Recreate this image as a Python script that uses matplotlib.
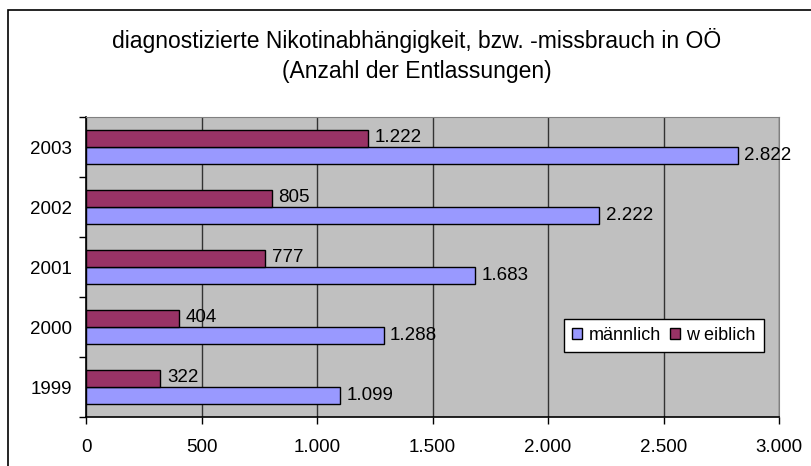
import matplotlib.pyplot as plt
import numpy as np
from matplotlib.patches import Rectangle

# data
years = ['1999', '2000', '2001', '2002', '2003']
maennlich = [1099, 1288, 1683, 2222, 2822]
weiblich = [322, 404, 777, 805, 1222]
x_ticks = [0, 500, 1000, 1500, 2000, 2500, 3000]

title = ('diagnostizierte Nikotinabhängigkeit, bzw. -missbrauch in OÖ\n'
         '(Anzahl der Entlassungen)')


def fmt(v):
    # German thousands separator
    return '{:,}'.format(v).replace(',', '.')


plt.rcParams['font.family'] = ['Liberation Sans', 'DejaVu Sans']

W, H = 811, 466
fig = plt.figure(figsize=(W / 100, H / 100), dpi=100)
fig.patch.set_facecolor('white')

# outer chart frame (runs off the right and bottom of the picture)
fig.patches.append(Rectangle((8 / W, -0.2), 1.2, 1.2 - 10 / H,
                             transform=fig.transFigure, fill=False,
                             edgecolor='black', linewidth=1.2, zorder=0))

left, right, top, bottom = 86, 779, 117, 417
ax = fig.add_axes([left / W, 1 - bottom / H, (right - left) / W,
                   (bottom - top) / H])
ax.set_facecolor('#C0C0C0')

y = np.arange(len(years))
h = 0.28
ax.barh(y - h / 2, maennlich, height=h, color='#9999FF',
        edgecolor='black', linewidth=1, label='männlich', zorder=3)
ax.barh(y + h / 2, weiblich, height=h, color='#993366',
        edgecolor='black', linewidth=1, label='w eiblich', zorder=3)

for yi, m, w in zip(y, maennlich, weiblich):
    ax.text(m + 28, yi - h / 2, fmt(m), va='center', ha='left',
            fontsize=13.5, zorder=4)
    ax.text(w + 28, yi + h / 2 + 0.02, fmt(w), va='center', ha='left',
            fontsize=13.5, zorder=4)

ax.set_xlim(0, 3000)
ax.set_ylim(-0.5, len(years) - 0.5)
ax.set_xticks(x_ticks)
ax.set_xticklabels([fmt(v) for v in x_ticks])
ax.set_yticks(y)
ax.set_yticklabels(years)
ax.set_yticks(np.arange(-0.5, len(years), 1), minor=True)
ax.tick_params(axis='y', which='major', length=0, pad=10, labelsize=13.5)
ax.tick_params(axis='y', which='minor', length=5, width=1)
ax.tick_params(axis='x', length=5, width=1, pad=11, labelsize=13.5)

ax.grid(axis='x', color='#333333', linewidth=1, zorder=1)
ax.set_axisbelow(True)
for s in ['top', 'right']:
    ax.spines[s].set_color('#808080')
for s in ['left', 'bottom']:
    ax.spines[s].set_color('black')
    ax.spines[s].set_linewidth(1.2)

leg = ax.legend(loc='upper left', bbox_to_anchor=(0.69, 0.327),
                ncol=2, fontsize=13, frameon=True, fancybox=False,
                borderaxespad=0, handlelength=0.55, handleheight=0.55,
                handletextpad=0.35, columnspacing=0.5, borderpad=0.45)
leg.get_frame().set_edgecolor('black')
leg.get_frame().set_linewidth(1)
leg.get_frame().set_alpha(1)

fig.text(417 / W, 1 - 55.5 / H, title, ha='center', va='center',
         fontsize=16.5, linespacing=1.35)

fig.savefig('out.png', dpi=100)
